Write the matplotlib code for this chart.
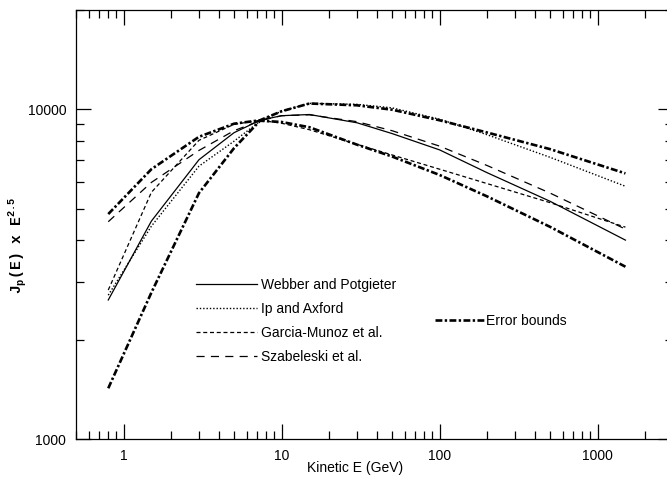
import matplotlib
matplotlib.use("Agg")
import matplotlib.pyplot as plt
from matplotlib.lines import Line2D
from matplotlib.ticker import LogLocator, FixedLocator, FixedFormatter, NullFormatter

plt.rcParams['font.family'] = ['Liberation Sans', 'DejaVu Sans']
plt.rcParams['font.size'] = 10

# Kinetic energy grid (GeV)
energy = [0.8, 1.5, 3, 5, 7.3, 10, 15, 30, 50, 100, 200, 500, 1500]

webber = [2640, 4580, 7030, 8490, 9260, 9560, 9640, 9100, 8440, 7530, 6420, 5260, 4010]
ip_axford = [2730, 4420, 6720, 8000, 9200, 9870, 10420, 10350, 10100, 9330, 8370, 7150, 5840]
garcia = [2830, 5600, 8050, 9000, 9260, 9070, 8670, 7830, 7270, 6580, 5950, 5210, 4390]
szabeleski = [4560, 6000, 7500, 8610, 9230, 9560, 9620, 9170, 8610, 7730, 6750, 5570, 4330]
upper_bound = [4810, 6580, 8250, 9040, 9260, 9860, 10410, 10280, 9970, 9260, 8500, 7570, 6390]
lower_bound = [1425, 2780, 5570, 7620, 9230, 9150, 8820, 7810, 7190, 6320, 5440, 4400, 3330]

labels = ["Webber and Potgieter", "Ip and Axford", "Garcia-Munoz et al.", "Szabeleski et al."]
err_label = "Error bounds"

x_ticks = [1, 10, 100, 1000]
x_ticklabels = ["1", "10", "100", "1000"]
y_ticks = [1000, 10000]
y_ticklabels = ["1000", "10000"]

styles = {
    "webber": dict(color="black", lw=0.9, ls="-"),
    "ip": dict(color="black", lw=1.0, ls=(0, (1, 1.4))),
    "garcia": dict(color="black", lw=0.9, ls=(0, (3.2, 2.2))),
    "szab": dict(color="black", lw=0.9, ls=(0, (6.5, 5))),
    "err": dict(color="black", lw=1.9, ls=(0, (2.6, 0.9, 0.9, 0.9))),
}

fig = plt.figure(figsize=(6.67, 4.78), dpi=100)
ax = fig.add_axes([76 / 667, 39 / 478, 597 / 667, 429 / 478])

ax.plot(energy, webber, **styles["webber"])
ax.plot(energy, ip_axford, **styles["ip"])
ax.plot(energy, garcia, **styles["garcia"])
ax.plot(energy, szabeleski, **styles["szab"])
ax.plot(energy, upper_bound, **styles["err"])
ax.plot(energy, lower_bound, **styles["err"])

ax.set_xscale("log")
ax.set_yscale("log")
ax.set_xlim(0.5, 3000)
ax.set_ylim(1000, 20000)

ax.xaxis.set_major_locator(FixedLocator(x_ticks))
ax.xaxis.set_major_formatter(FixedFormatter(x_ticklabels))
ax.xaxis.set_minor_locator(LogLocator(base=10, subs=range(2, 10), numticks=20))
ax.xaxis.set_minor_formatter(NullFormatter())
ax.yaxis.set_major_locator(FixedLocator(y_ticks))
ax.yaxis.set_major_formatter(FixedFormatter(y_ticklabels))
ax.yaxis.set_minor_locator(LogLocator(base=10, subs=range(2, 10), numticks=20))
ax.yaxis.set_minor_formatter(NullFormatter())

ax.tick_params(which="both", direction="in", top=True, right=True, width=0.9, labelsize=10)
ax.tick_params(which="major", length=11, pad=7)
ax.tick_params(which="minor", length=5.5)
for s in ax.spines.values():
    s.set_linewidth(0.9)

ax.set_xlabel("Kinetic E (GeV)", fontsize=10)
ax.xaxis.set_label_coords((355 - 76) / 597, -0.052)
ax.set_ylabel(r"J$_\mathregular{p}$(E) x E$^\mathregular{2.5}$",
              fontsize=10.5, family="Liberation Mono", fontweight="bold")
ax.yaxis.set_label_coords(-0.08, 0.45)

handles = [Line2D([], [], **styles["webber"]),
           Line2D([], [], **styles["ip"]),
           Line2D([], [], **styles["garcia"]),
           Line2D([], [], **styles["szab"])]
leg1 = ax.legend(handles, labels, loc="upper left",
                 bbox_to_anchor=((196 - 76) / 597, 1 - (278 - 10) / 429),
                 frameon=False, borderpad=0, borderaxespad=0,
                 handlelength=4.4, handletextpad=0.3, labelspacing=0.72, fontsize=10)
ax.add_artist(leg1)
ax.legend([Line2D([], [], **styles["err"])], [err_label], loc="upper left",
          bbox_to_anchor=((435 - 76) / 597, 1 - (314 - 10) / 429),
          frameon=False, borderpad=0, borderaxespad=0,
          handlelength=3.6, handletextpad=0.1, fontsize=10)

fig.savefig("out.png", dpi=100)
